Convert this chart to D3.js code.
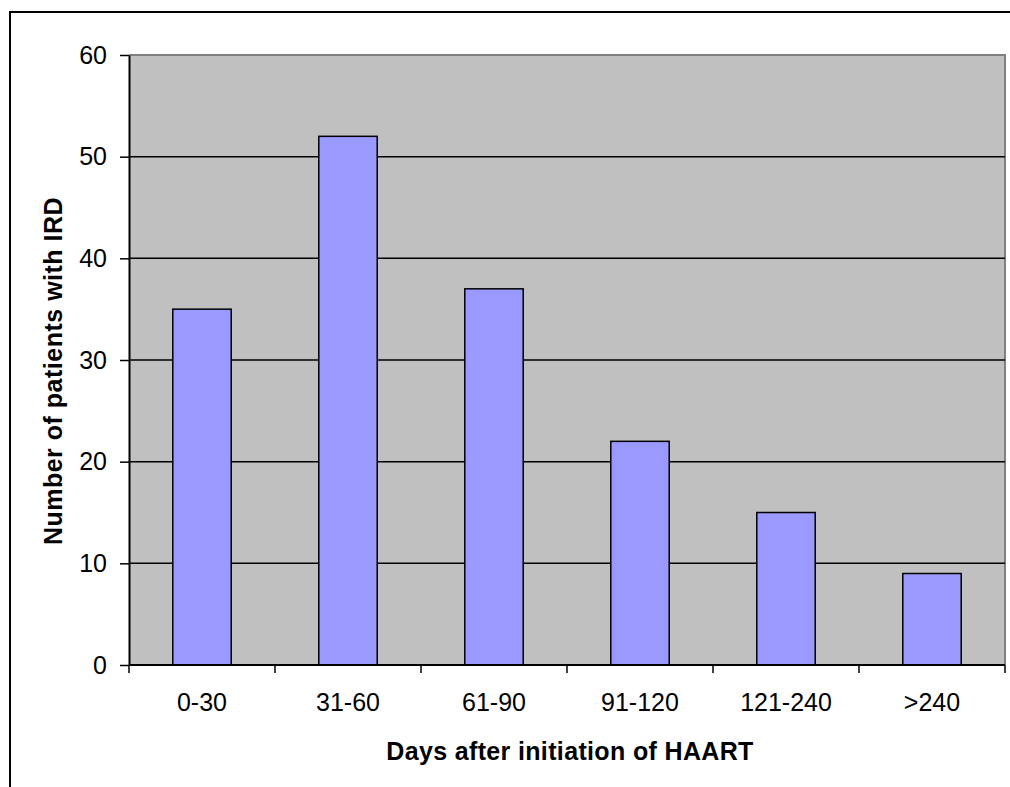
<!DOCTYPE html>
<html lang="en">
<head>
    <meta charset="UTF-8">
    <title>IRD by days after HAART</title>
    <style>
        body { margin: 0; background: #fff; }
        svg { display: block; font-family: "Liberation Sans", Arial, sans-serif; }
    </style>
</head>
<body>
    <svg></svg>
    <script src="https://d3js.org/d3.v7.min.js"></script>
    <script>
        var categories = ['0-30', '31-60', '61-90', '91-120', '121-240', '>240'];
        var patients = [35, 52, 37, 22, 15, 9];
        var yTicks = [0, 10, 20, 30, 40, 50, 60];

        var svgWidth = 1010, svgHeight = 787;
        var plotLeft = 129, plotRight = 1005, plotTop = 55, plotBottom = 665;

        var svg = d3.select('svg')
            .attr('width', svgWidth)
            .attr('height', svgHeight);

        // outer chart border (runs off the right and bottom edges)
        svg.append('rect')
            .attr('x', 10).attr('y', 12)
            .attr('width', 1100).attr('height', 900)
            .attr('fill', 'none').attr('stroke', '#000').attr('stroke-width', 2);

        var x = d3.scaleBand().domain(categories).range([plotLeft, plotRight]);
        var y = d3.scaleLinear().domain([0, 60]).range([plotBottom, plotTop]);

        // plot area
        svg.append('rect')
            .attr('x', plotLeft).attr('y', plotTop)
            .attr('width', plotRight - plotLeft).attr('height', plotBottom - plotTop)
            .attr('fill', '#c0c0c0');
        svg.append('path')
            .attr('d', 'M' + plotLeft + ',' + plotTop + 'H' + plotRight + 'V' + plotBottom)
            .attr('fill', 'none').attr('stroke', '#808080').attr('stroke-width', 2);

        // gridlines
        svg.selectAll('line.grid').data(yTicks.slice(1, -1)).enter()
            .append('line').attr('class', 'grid')
            .attr('x1', plotLeft).attr('x2', plotRight)
            .attr('y1', d => y(d)).attr('y2', d => y(d))
            .attr('stroke', '#000').attr('stroke-width', 1.5);

        // bars
        var barW = x.bandwidth() * 0.4;
        svg.selectAll('rect.bar').data(patients).enter()
            .append('rect').attr('class', 'bar')
            .attr('x', (d, i) => x(categories[i]) + (x.bandwidth() - barW) / 2)
            .attr('y', d => y(d))
            .attr('width', barW)
            .attr('height', d => y(0) - y(d))
            .attr('fill', '#9999ff').attr('stroke', '#000').attr('stroke-width', 1.5);

        // y axis
        var yAxis = svg.append('g')
            .attr('transform', 'translate(' + plotLeft + ',0)')
            .call(d3.axisLeft(y).tickValues(yTicks).tickSize(9).tickPadding(13).tickSizeOuter(0));
        yAxis.select('.domain').attr('stroke', '#000').attr('stroke-width', 2);
        yAxis.selectAll('.tick line').attr('stroke', '#000').attr('stroke-width', 1.5);
        yAxis.selectAll('.tick text').attr('font-size', 25).attr('fill', '#000')
            .attr('font-family', '"Liberation Sans", Arial, sans-serif');

        // x axis with ticks at category boundaries
        var xAxis = svg.append('g').attr('transform', 'translate(0,' + plotBottom + ')');
        xAxis.append('line').attr('x1', plotLeft).attr('x2', plotRight)
            .attr('stroke', '#000').attr('stroke-width', 2);
        var edges = categories.map(c => x(c)).concat([plotRight]);
        xAxis.selectAll('line.tk').data(edges).enter()
            .append('line').attr('class', 'tk')
            .attr('x1', d => d).attr('x2', d => d)
            .attr('y1', 0).attr('y2', 8)
            .attr('stroke', '#000').attr('stroke-width', 1.5);
        xAxis.selectAll('text').data(categories).enter()
            .append('text')
            .attr('x', d => x(d) + x.bandwidth() / 2)
            .attr('y', 46)
            .attr('text-anchor', 'middle')
            .attr('font-size', 25)
            .text(d => d);

        // axis titles
        svg.append('text')
            .attr('x', 570).attr('y', 760)
            .attr('text-anchor', 'middle')
            .attr('font-size', 25).attr('font-weight', 'bold')
            .attr('letter-spacing', 0.35)
            .text('Days after initiation of HAART');
        svg.append('text')
            .attr('transform', 'translate(62,371) rotate(-90)')
            .attr('text-anchor', 'middle')
            .attr('font-size', 25).attr('font-weight', 'bold')
            .attr('letter-spacing', 0.5)
            .text('Number of patients with IRD');
    </script>
</body>
</html>
